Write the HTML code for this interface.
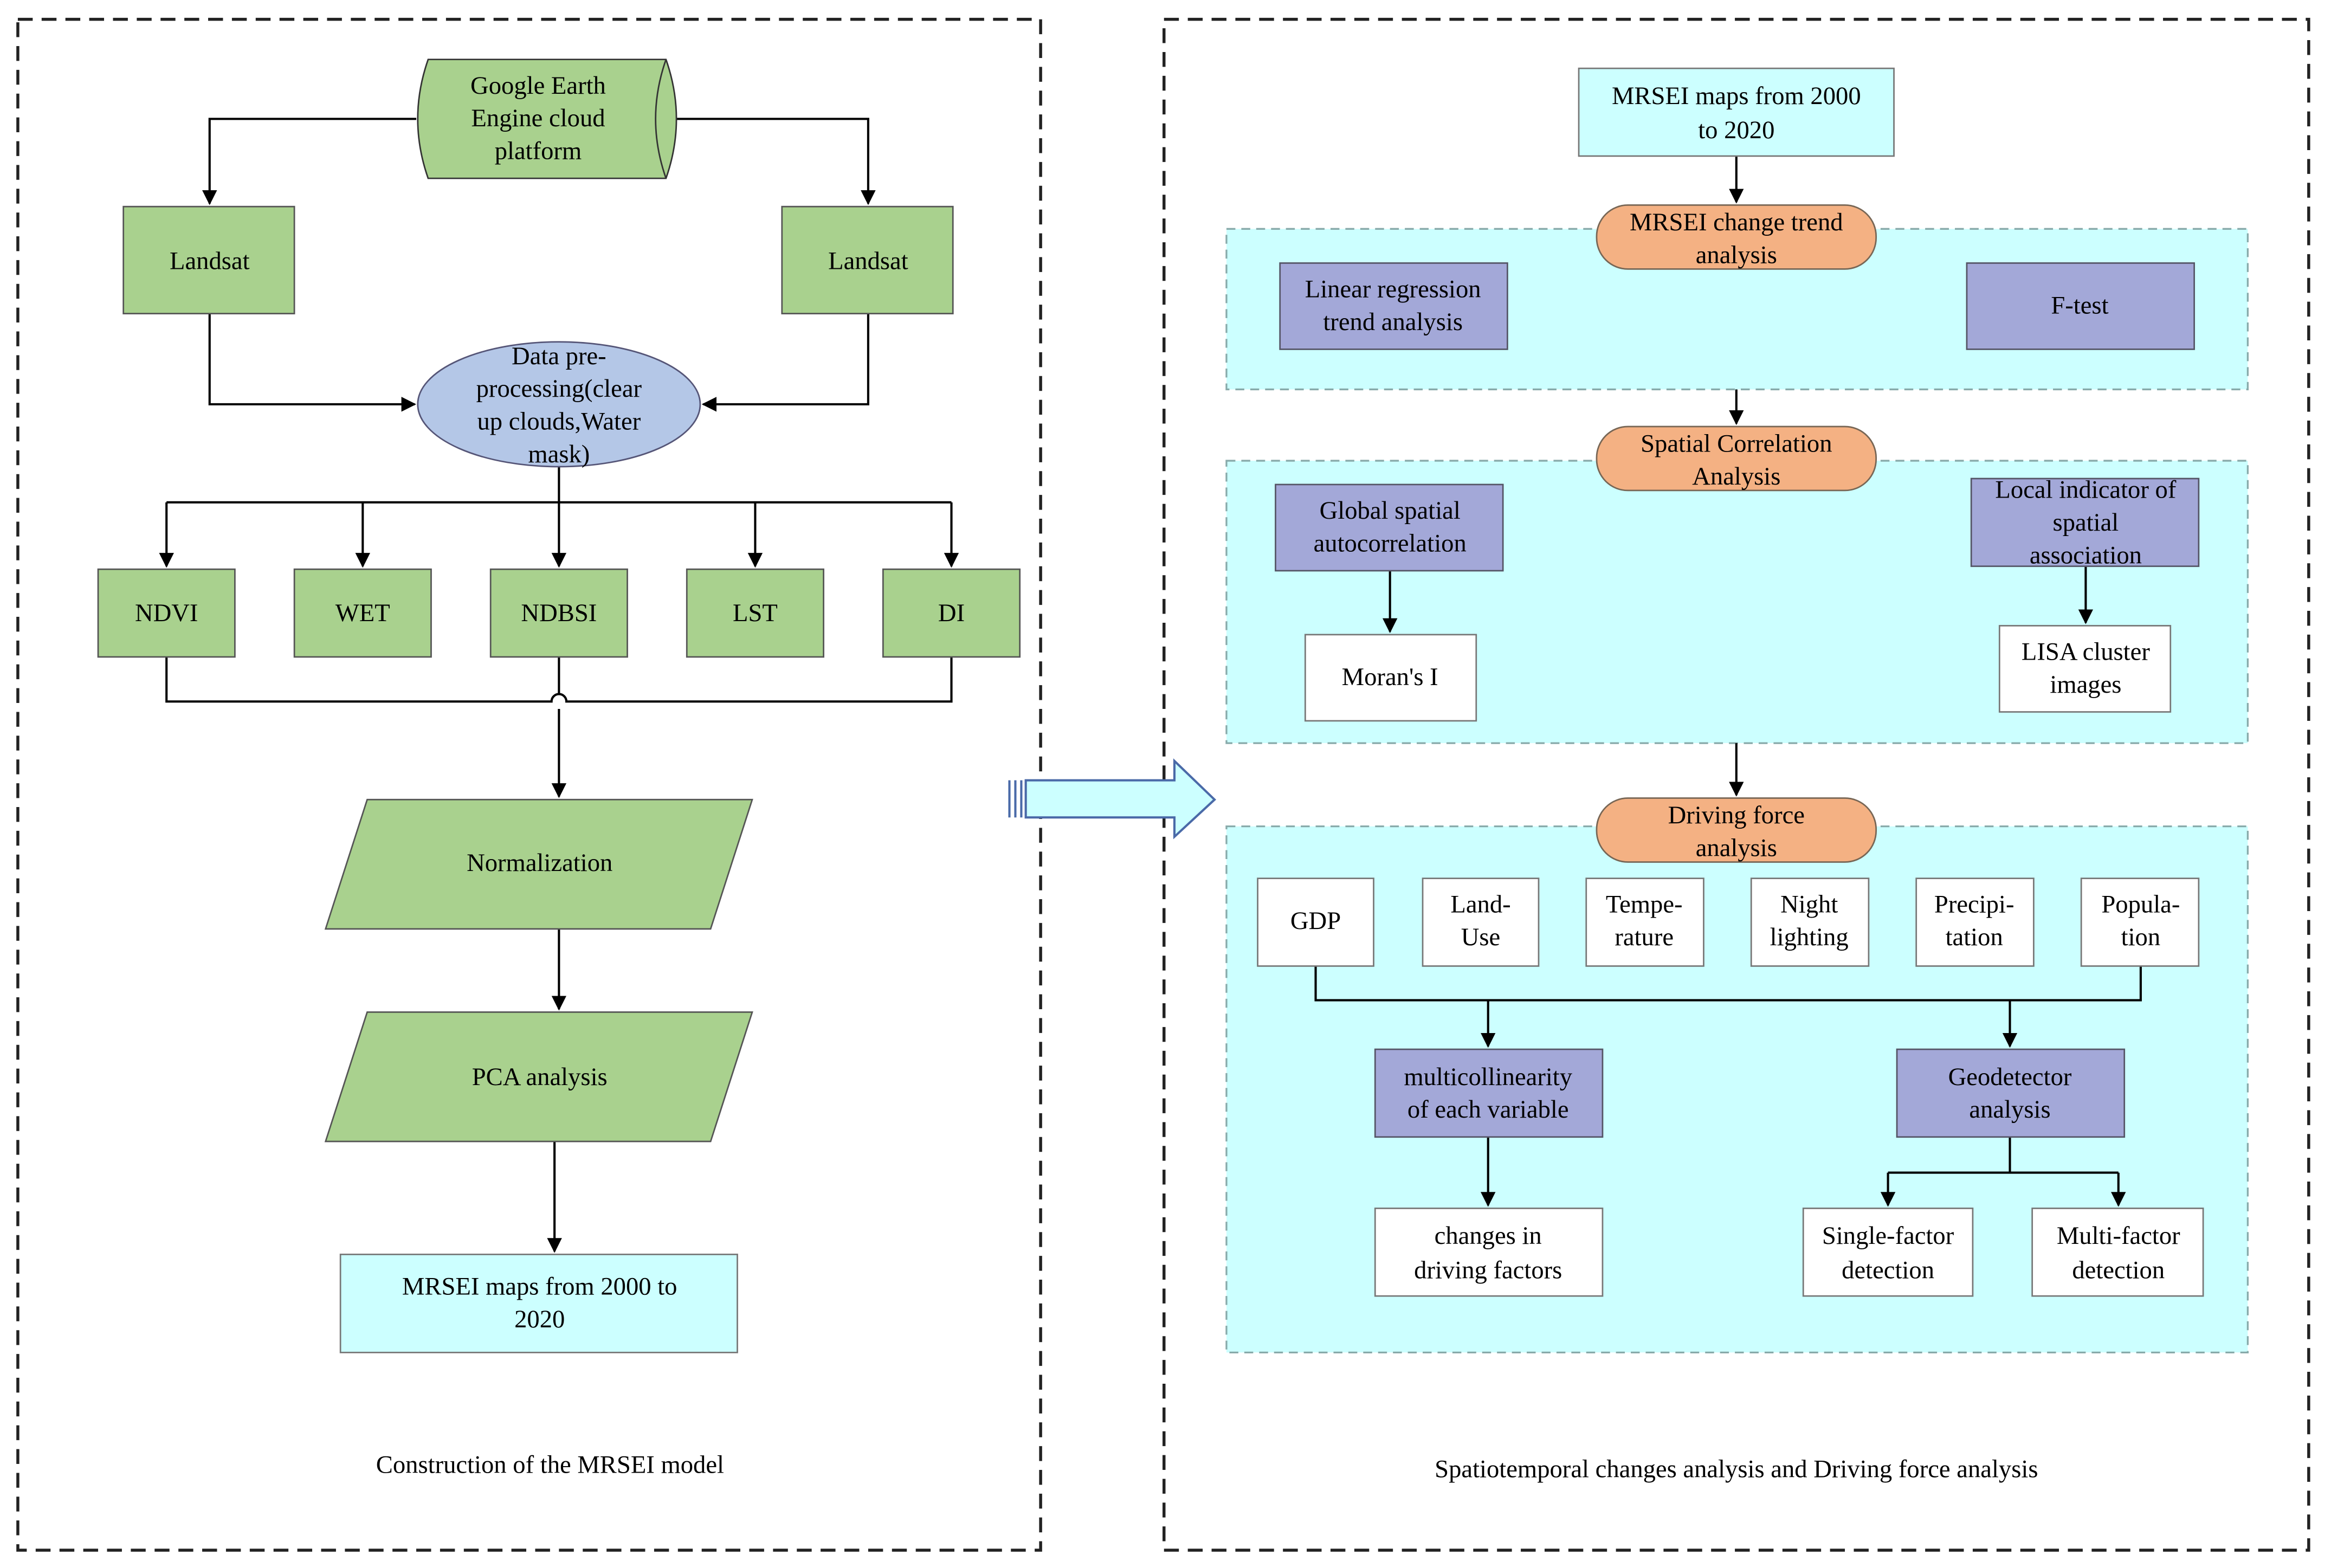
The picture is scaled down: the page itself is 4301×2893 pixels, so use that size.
<!DOCTYPE html>
<html><head><meta charset="utf-8"><style>html,body{margin:0;padding:0;background:#fff}svg{display:block}svg text{font-family:"Liberation Serif",serif}</style></head>
<body>
<svg width="4301" height="2893" viewBox="0 0 1568 1055" preserveAspectRatio="none" xmlns="http://www.w3.org/2000/svg" style="font-family:'Liberation Serif',serif" font-size="17" text-anchor="middle">
<defs><marker id="a" markerWidth="10" markerHeight="10" refX="9" refY="5" orient="auto" markerUnits="userSpaceOnUse"><path d="M0,0 L10,5 L0,10 z" fill="#000"/></marker></defs>
<g fill="none" stroke="#222" stroke-width="2" stroke-dasharray="10,6">
<rect x="12" y="13" width="688" height="1030"/>
<rect x="783" y="13" width="770" height="1030"/>
</g>
<g fill="#ccffff" stroke="#8aa" stroke-width="1.2" stroke-dasharray="6,4">
<rect x="825" y="154" width="687" height="108"/>
<rect x="825" y="310" width="687" height="190"/>
<rect x="825" y="556" width="687" height="354"/>
</g>
<g stroke="#000" stroke-width="1.5" fill="none">
<path d="M280,80 H141 V137" marker-end="url(#a)"/>
<path d="M455,80 H584 V137" marker-end="url(#a)"/>
<path d="M141,211 V272 H279" marker-end="url(#a)"/>
<path d="M584,211 V272 H473" marker-end="url(#a)"/>
<path d="M112,338 H640"/>
<path d="M376,314 V381" marker-end="url(#a)"/>
<path d="M112,338 V381" marker-end="url(#a)"/><path d="M244,338 V381" marker-end="url(#a)"/><path d="M508,338 V381" marker-end="url(#a)"/><path d="M640,338 V381" marker-end="url(#a)"/>
<path d="M112,442 V472 H371 A5,5 0 0 1 381,472 H640 V442"/>
<path d="M376,442 V467 M376,477 V536" marker-end="url(#a)"/>
<path d="M376,625 V679" marker-end="url(#a)"/>
<path d="M373,768 V842" marker-end="url(#a)"/>
<path d="M1168,105 V136" marker-end="url(#a)"/>
<path d="M1168,262 V285" marker-end="url(#a)"/>
<path d="M935,384 V425" marker-end="url(#a)"/>
<path d="M1403,381 V419" marker-end="url(#a)"/>
<path d="M1168,500 V535" marker-end="url(#a)"/>
<path d="M885,650 V673 H1440 V650"/>
<path d="M1001,673 V704" marker-end="url(#a)"/>
<path d="M1352,673 V704" marker-end="url(#a)"/>
<path d="M1001,765 V811" marker-end="url(#a)"/>
<path d="M1352,765 V789 H1270 M1352,789 H1425"/>
<path d="M1270,789 V811" marker-end="url(#a)"/>
<path d="M1425,789 V811" marker-end="url(#a)"/>
</g>
<path d="M288,40 H448 Q462,80 448,120 H288 Q274,80 288,40 Z" fill="#a9d18e" stroke="#333" stroke-width="1"/>
<path d="M448,40 Q434,80 448,120" fill="none" stroke="#333" stroke-width="1"/>
<g fill="#a9d18e" stroke="#555" stroke-width="1">
<rect x="83" y="139" width="115" height="72"/><rect x="526" y="139" width="115" height="72"/>
<rect x="66" y="383" width="92" height="59"/><rect x="198" y="383" width="92" height="59"/><rect x="330" y="383" width="92" height="59"/><rect x="462" y="383" width="92" height="59"/><rect x="594" y="383" width="92" height="59"/>
<path d="M247,538 H506 L478,625 H219 Z"/><path d="M247,681 H506 L478,768 H219 Z"/>
</g>
<ellipse cx="376" cy="272" rx="95" ry="42" fill="#b4c7e7" stroke="#557" stroke-width="1"/>
<g fill="#ccffff" stroke="#777" stroke-width="1">
<rect x="229" y="844" width="267" height="66"/><rect x="1062" y="46" width="212" height="59"/>
</g>
<g fill="#a3a8d8" stroke="#556" stroke-width="1">
<rect x="861" y="177" width="153" height="58"/><rect x="1323" y="177" width="153" height="58"/>
<rect x="858" y="326" width="153" height="58"/><rect x="1326" y="322" width="153" height="59"/>
<rect x="925" y="706" width="153" height="59"/><rect x="1276" y="706" width="153" height="59"/>
</g>
<g fill="#fff" stroke="#777" stroke-width="1">
<rect x="878" y="427" width="115" height="58"/><rect x="1345" y="421" width="115" height="58"/>
<rect x="846" y="591" width="78" height="59"/><rect x="957" y="591" width="78" height="59"/><rect x="1067" y="591" width="79" height="59"/><rect x="1178" y="591" width="79" height="59"/><rect x="1289" y="591" width="79" height="59"/><rect x="1400" y="591" width="79" height="59"/>
<rect x="925" y="813" width="153" height="59"/><rect x="1213" y="813" width="114" height="59"/><rect x="1367" y="813" width="115" height="59"/>
</g>
<g fill="#f4b183" stroke="#765" stroke-width="1">
<rect x="1074" y="138" width="188" height="43" rx="21"/><rect x="1074" y="287" width="188" height="43" rx="21"/><rect x="1074" y="537" width="188" height="43" rx="21"/>
</g>
<path d="M690,525 H790 V512 L817,538 L790,563 V550 H690 Z" fill="#ccffff" stroke="#4a6aa8" stroke-width="1.5"/>
<path d="M679,525 V550 M683,525 V550 M687,525 V550" stroke="#4a6aa8" stroke-width="1.5"/>
<g fill="#000">
<text x="362" y="63">Google Earth</text><text x="362" y="85">Engine cloud</text><text x="362" y="107">platform</text>
<text x="141" y="181">Landsat</text><text x="584" y="181">Landsat</text>
<text x="376" y="245">Data pre-</text><text x="376" y="267">processing(clear</text><text x="376" y="289">up clouds,Water</text><text x="376" y="311">mask)</text>
<text x="112" y="418">NDVI</text><text x="244" y="418">WET</text><text x="376" y="418">NDBSI</text><text x="508" y="418">LST</text><text x="640" y="418">DI</text>
<text x="363" y="586">Normalization</text><text x="363" y="730">PCA analysis</text>
<text x="363" y="871">MRSEI maps from 2000 to</text><text x="363" y="893">2020</text>
<text x="370" y="991">Construction of the MRSEI model</text>
<text x="1168" y="70">MRSEI maps from 2000</text><text x="1168" y="93">to 2020</text>
<text x="1168" y="155">MRSEI change trend</text><text x="1168" y="177">analysis</text>
<text x="937" y="200">Linear regression</text><text x="937" y="222">trend analysis</text><text x="1399" y="211">F-test</text>
<text x="1168" y="304">Spatial Correlation</text><text x="1168" y="326">Analysis</text>
<text x="935" y="349">Global spatial</text><text x="935" y="371">autocorrelation</text>
<text x="1403" y="335">Local indicator of</text><text x="1403" y="357">spatial</text><text x="1403" y="379">association</text>
<text x="935" y="461">Moran's I</text><text x="1403" y="444">LISA cluster</text><text x="1403" y="466">images</text>
<text x="1168" y="554">Driving force</text><text x="1168" y="576">analysis</text>
<text x="885" y="625">GDP</text><text x="996" y="614">Land-</text><text x="996" y="636">Use</text><text x="1106" y="614">Tempe-</text><text x="1106" y="636">rature</text>
<text x="1217" y="614">Night</text><text x="1217" y="636">lighting</text><text x="1328" y="614">Precipi-</text><text x="1328" y="636">tation</text><text x="1440" y="614">Popula-</text><text x="1440" y="636">tion</text>
<text x="1001" y="730">multicollinearity</text><text x="1001" y="752">of each variable</text>
<text x="1352" y="730">Geodetector</text><text x="1352" y="752">analysis</text>
<text x="1001" y="837">changes in</text><text x="1001" y="860">driving factors</text>
<text x="1270" y="837">Single-factor</text><text x="1270" y="860">detection</text>
<text x="1425" y="837">Multi-factor</text><text x="1425" y="860">detection</text>
<text x="1168" y="994">Spatiotemporal changes analysis and Driving force analysis</text>
</g>
</svg>
</body></html>
